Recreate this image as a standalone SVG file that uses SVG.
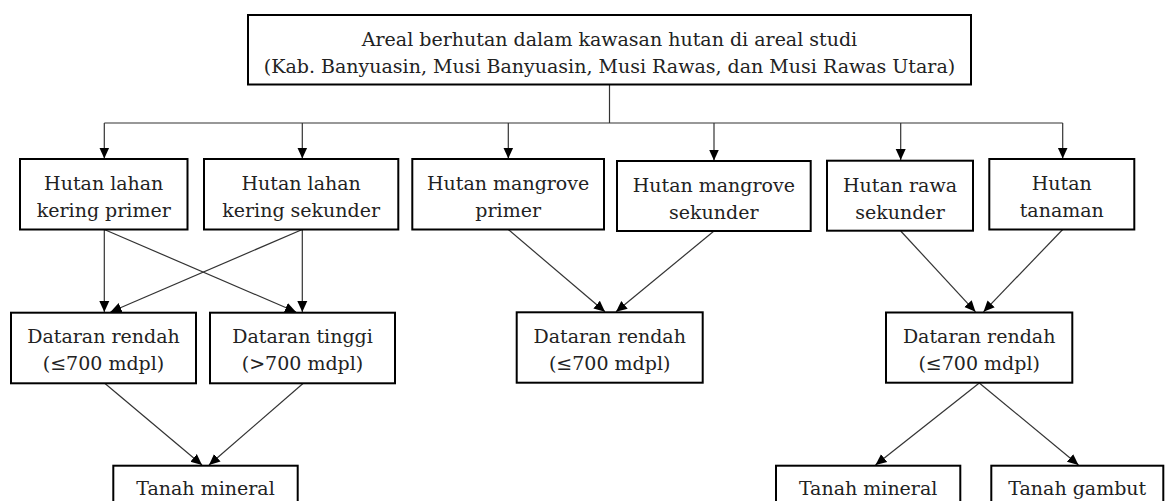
<svg xmlns="http://www.w3.org/2000/svg" width="1165" height="501" viewBox="0 0 1165 501">
<style>
.box{fill:#fff;stroke:#000;stroke-width:2}
.t{font-family:"DejaVu Serif","Liberation Serif",serif;font-size:19px;fill:#222;text-anchor:middle}
.c{fill:none;stroke:#333;stroke-width:1.2}
</style>
<defs>
<marker id="ah" markerUnits="userSpaceOnUse" markerWidth="12" markerHeight="12" viewBox="0 0 12 12" refX="11" refY="6" orient="auto">
<path d="M0,1 L11,6 L0,11 Z" fill="#000"/>
</marker>
</defs>
<rect width="1165" height="501" fill="#fff"/>
<g id="connectors">
<polyline class="c" points="609.5,84.5 609.5,123"/>
<polyline class="c" points="104.3,123 1062.7,123"/>
<line class="c" x1="104.3" y1="123" x2="104.3" y2="158.5" marker-end="url(#ah)"/>
<line class="c" x1="302.3" y1="123" x2="302.3" y2="158.5" marker-end="url(#ah)"/>
<line class="c" x1="508.3" y1="123" x2="508.3" y2="158.5" marker-end="url(#ah)"/>
<line class="c" x1="714" y1="123" x2="714" y2="160.5" marker-end="url(#ah)"/>
<line class="c" x1="900.7" y1="123" x2="900.7" y2="160" marker-end="url(#ah)"/>
<line class="c" x1="1062.7" y1="123" x2="1062.7" y2="158.5" marker-end="url(#ah)"/>
<line class="c" x1="104.3" y1="229.5" x2="104.3" y2="312" marker-end="url(#ah)"/>
<line class="c" x1="302.3" y1="229.5" x2="110.5" y2="312" marker-end="url(#ah)"/>
<line class="c" x1="104.3" y1="229.5" x2="296" y2="312" marker-end="url(#ah)"/>
<line class="c" x1="302.3" y1="229.5" x2="302.3" y2="312" marker-end="url(#ah)"/>
<line class="c" x1="508.3" y1="229.5" x2="605" y2="311.8" marker-end="url(#ah)"/>
<line class="c" x1="714" y1="231" x2="616" y2="311.8" marker-end="url(#ah)"/>
<line class="c" x1="900.7" y1="231" x2="975.5" y2="311.8" marker-end="url(#ah)"/>
<line class="c" x1="1062.7" y1="229.5" x2="983.5" y2="311.8" marker-end="url(#ah)"/>
<line class="c" x1="105" y1="383.5" x2="202" y2="465" marker-end="url(#ah)"/>
<line class="c" x1="303" y1="383.5" x2="209" y2="465" marker-end="url(#ah)"/>
<line class="c" x1="979.3" y1="383" x2="875.5" y2="465" marker-end="url(#ah)"/>
<line class="c" x1="979.3" y1="383" x2="1078.5" y2="465" marker-end="url(#ah)"/>
</g>
<g id="n-top">
<rect class="box" x="248" y="15" width="723" height="69.5"/>
<text class="t" x="609.5" y="46">Areal berhutan dalam kawasan hutan di areal studi</text>
<text class="t" x="609.5" y="73">(Kab. Banyuasin, Musi Banyuasin, Musi Rawas, dan Musi Rawas Utara)</text>
</g>
<g id="n-hlkp">
<rect class="box" x="20" y="159" width="167.5" height="70.5"/>
<text class="t" x="103.75" y="190">Hutan lahan</text>
<text class="t" x="103.75" y="217">kering primer</text>
</g>
<g id="n-hlks">
<rect class="box" x="204" y="159" width="194.3" height="70.5"/>
<text class="t" x="301.15" y="190">Hutan lahan</text>
<text class="t" x="301.15" y="217">kering sekunder</text>
</g>
<g id="n-hmp">
<rect class="box" x="412.3" y="159" width="191.7" height="70.5"/>
<text class="t" x="508.15" y="190">Hutan mangrove</text>
<text class="t" x="508.15" y="217">primer</text>
</g>
<g id="n-hms">
<rect class="box" x="617" y="161" width="193.7" height="70"/>
<text class="t" x="713.85" y="192">Hutan mangrove</text>
<text class="t" x="713.85" y="219">sekunder</text>
</g>
<g id="n-hrs">
<rect class="box" x="827" y="160.7" width="146" height="70"/>
<text class="t" x="900" y="191.5">Hutan rawa</text>
<text class="t" x="900" y="218.5">sekunder</text>
</g>
<g id="n-ht">
<rect class="box" x="989.3" y="159" width="145" height="70.5"/>
<text class="t" x="1061.8" y="190">Hutan</text>
<text class="t" x="1061.8" y="217">tanaman</text>
</g>
<g id="n-dr1">
<rect class="box" x="11" y="312.7" width="185" height="70.6"/>
<text class="t" x="103.5" y="343">Dataran rendah</text>
<text class="t" x="103.5" y="370">(≤700 mdpl)</text>
</g>
<g id="n-dt">
<rect class="box" x="210" y="312.7" width="185" height="70.6"/>
<text class="t" x="302.5" y="343">Dataran tinggi</text>
<text class="t" x="302.5" y="370">(&gt;700 mdpl)</text>
</g>
<g id="n-dr2">
<rect class="box" x="516.7" y="312.3" width="186" height="70.4"/>
<text class="t" x="609.7" y="343">Dataran rendah</text>
<text class="t" x="609.7" y="370">(≤700 mdpl)</text>
</g>
<g id="n-dr3">
<rect class="box" x="886" y="312.5" width="186.3" height="70.2"/>
<text class="t" x="979.15" y="343">Dataran rendah</text>
<text class="t" x="979.15" y="370">(≤700 mdpl)</text>
</g>
<g id="n-tm1">
<rect class="box" x="113.3" y="465.7" width="184.4" height="50"/>
<text class="t" x="205.5" y="494.5">Tanah mineral</text>
</g>
<g id="n-tm2">
<rect class="box" x="776" y="465.7" width="184.3" height="50"/>
<text class="t" x="868.15" y="494.5">Tanah mineral</text>
</g>
<g id="n-tg">
<rect class="box" x="991.3" y="465.7" width="172" height="50"/>
<text class="t" x="1077.3" y="494.5">Tanah gambut</text>
</g>
</svg>
